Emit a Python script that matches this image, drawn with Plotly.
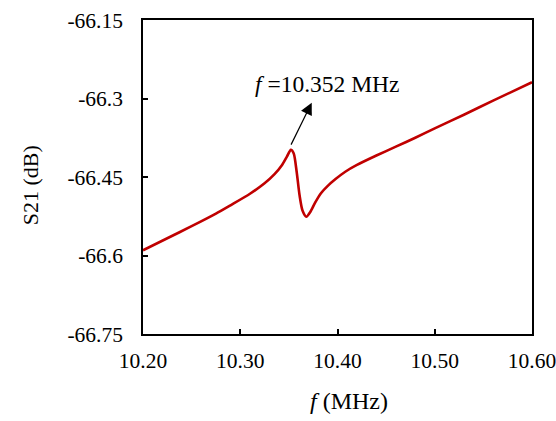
import plotly.graph_objects as go

# Transmission response around the resonance (frequency in MHz, S21 in dB)
freq_mhz = [10.200, 10.225, 10.250, 10.275, 10.290, 10.310, 10.325, 10.335,
            10.343, 10.348, 10.352, 10.355, 10.358, 10.361, 10.364, 10.368,
            10.372, 10.377, 10.383, 10.390, 10.398, 10.408, 10.420, 10.440,
            10.460, 10.480, 10.500, 10.530, 10.560, 10.600]
s21_db = [-66.590, -66.567, -66.544, -66.520, -66.504, -66.482, -66.462, -66.445,
          -66.427, -66.411, -66.398, -66.405, -66.440, -66.485, -66.514, -66.526,
          -66.517, -66.499, -66.481, -66.467, -66.454, -66.440, -66.427, -66.409,
          -66.392, -66.375, -66.357, -66.331, -66.304, -66.269]

x_ticks = [10.20, 10.30, 10.40, 10.50, 10.60]
x_tick_text = ["10.20", "10.30", "10.40", "10.50", "10.60"]
y_ticks = [-66.75, -66.6, -66.45, -66.3, -66.15]
y_tick_text = ["-66.75", "-66.6", "-66.45", "-66.3", "-66.15"]

FONT = "Liberation Serif"

fig = go.Figure()
fig.add_trace(go.Scatter(
    x=freq_mhz, y=s21_db, mode="lines",
    line=dict(color="#C00000", width=2.6, shape="spline", smoothing=0.7),
    showlegend=False,
))

axis_common = dict(
    showline=True, linecolor="black", linewidth=1.5, mirror=True,
    ticks="inside", ticklen=5, tickwidth=1.5, tickcolor="black",
    showgrid=False, zeroline=False, automargin=False,
    ticklabeloverflow="allow",
    tickfont=dict(family=FONT, size=21.5, color="black"),
)

fig.update_xaxes(range=[10.20, 10.60], tickvals=x_ticks, ticktext=x_tick_text,
                 ticklabelstandoff=6, **axis_common)
fig.update_yaxes(range=[-66.75, -66.15], tickvals=y_ticks, ticktext=y_tick_text,
                 ticklabelstandoff=14, **axis_common)

# Arrow pointing away from the resonance peak
fig.add_annotation(x=10.3735, y=-66.308, ax=10.3515, ay=-66.391,
                   xref="x", yref="y", axref="x", ayref="y",
                   text="", showarrow=True, arrowhead=2, arrowsize=2.0,
                   arrowwidth=1.2, arrowcolor="black")
fig.add_annotation(x=10.3897, y=-66.273, xref="x", yref="y",
                   text="<i>f</i> =10.352 MHz", showarrow=False,
                   xanchor="center", yanchor="middle",
                   font=dict(family=FONT, size=23.5, color="black"))

# Axis titles
fig.add_annotation(x=0.5296, y=-0.213, xref="paper", yref="paper",
                   text="<i>f</i> (MHz)", showarrow=False,
                   xanchor="center", yanchor="middle",
                   font=dict(family=FONT, size=24, color="black"))
fig.add_annotation(x=-0.2905, y=0.4738, xref="paper", yref="paper",
                   text="S21 (dB)", showarrow=False, textangle=-90,
                   xanchor="center", yanchor="middle",
                   font=dict(family=FONT, size=22, color="black"))

fig.update_layout(
    width=556, height=421,
    margin=dict(l=143, r=24, t=20, b=87),
    font=dict(family=FONT, size=21.5, color="black"),
    plot_bgcolor="white", paper_bgcolor="white",
)

fig.write_html("out.html")
